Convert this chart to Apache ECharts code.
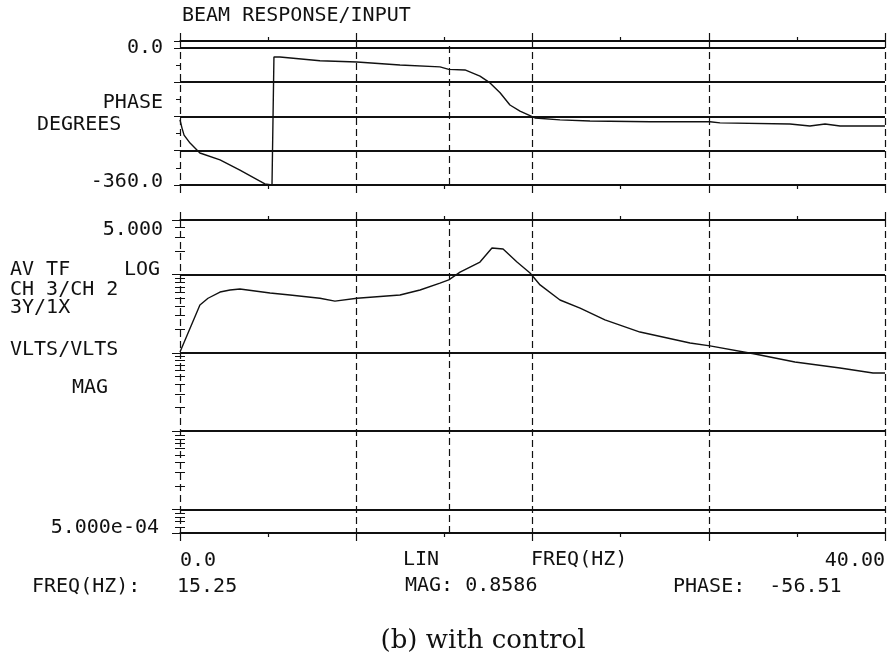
<!DOCTYPE html>
<html>
<head>
<meta charset="utf-8">
<script src="https://cdn.jsdelivr.net/npm/echarts@6/dist/echarts.min.js"></script>
<style>
  html, body { margin: 0; padding: 0; background: #fff; }
  #beamChart { width: 890px; height: 659px; }
</style>
</head>
<body>
<div id="beamChart"></div>
<script>
// phase trace (Hz, degrees)
const phaseFreq = [0, 0.11, 0.23, 0.57, 1.13, 2.27, 3.40, 4.43, 4.82, 5.22, 5.33, 5.67, 7.94, 10.04, 12.48, 14.75, 15.25,
  16.17, 17.02, 17.59, 18.16, 18.72, 19.29, 20.14, 21.56, 23.26, 26.67, 30.07, 30.64, 34.61, 35.74, 36.6, 37.45, 40];
const phaseDeg = [-189, -210, -229, -250, -276, -294, -321, -347, -357, -360, -24, -24, -34, -37, -45, -50, -56.5,
  -58, -74, -92, -118, -150, -166, -184, -189, -192, -194, -194, -197, -200, -205, -200, -205, -205];

// magnitude trace (Hz, volts/volts)
const magFreq = [0, 1.13, 1.59, 2.27, 2.84, 3.40, 5.11, 6.24, 7.94, 8.79, 10.04, 12.48, 13.62, 14.75, 15.25, 15.89,
  17.02, 17.70, 18.33, 19.12, 19.86, 20.43, 21.56, 22.70, 24.11, 26.10, 28.94, 30.07, 32.62, 34.89, 37.45, 39.32, 40];
const magVal = [0.103, 0.41, 0.50, 0.60, 0.637, 0.656, 0.583, 0.55, 0.50, 0.46, 0.50, 0.55, 0.637, 0.78, 0.86, 1.08,
  1.45, 2.19, 2.13, 1.45, 1.05, 0.74, 0.475, 0.375, 0.264, 0.185, 0.134, 0.123, 0.097, 0.0766, 0.0642, 0.0554, 0.0554];

const cursorFreq = 15.25;

// tick labels
const freqLabels = ['0.0', '40.00'];
const phaseLabels = ['-360.0', '0.0'];
const magLabels = ['5.000e-04', '5.000'];

const MONO = '"DejaVu Sans Mono", monospace';
const INK = '#111';

let chart = echarts.init(document.getElementById('beamChart'), null, {renderer: 'canvas'});

const xCommon = (grid, pos) => ({
  type: 'value',
  gridIndex: grid,
  position: pos,
  min: 0,
  max: 40,
  interval: 10,
  axisLine: {show: true, onZero: false, lineStyle: {color: INK, width: 1.5}},
  axisTick: {show: true, length: 8, lineStyle: {color: INK, width: 1.2}},
  minorTick: {show: true, splitNumber: 2, length: 4, lineStyle: {color: INK, width: 1.2}},
  axisLabel: {show: false},
  splitLine: {show: false}
});

const txt = (text, x, y, align) => ({
  type: 'text',
  x: x,
  y: y,
  silent: true,
  style: {text: text, font: '20px ' + MONO, fill: INK, align: align || 'left', verticalAlign: 'middle'}
});

let option = {
  backgroundColor: '#fff',
  animation: false,
  grid: [
    {left: 180, right: 5, top: 41, height: 144, outerBoundsMode: 'none', containLabel: false},
    {left: 180, right: 5, top: 220, height: 313, outerBoundsMode: 'none', containLabel: false}
  ],
  xAxis: [
    Object.assign(xCommon(0, 'bottom'), {
      splitLine: {show: true, lineStyle: {type: [7, 4], color: INK, width: 1.2}}
    }),
    xCommon(0, 'top'),
    Object.assign(xCommon(1, 'bottom'), {
      splitLine: {show: true, lineStyle: {type: [7, 4], color: INK, width: 1.2}},
      axisLabel: {
        show: true,
        margin: 18,
        fontFamily: MONO,
        fontSize: 20,
        color: INK,
        alignMinLabel: 'left',
        alignMaxLabel: 'right',
        formatter: (v) => v === 0 ? freqLabels[0] : (v === 40 ? freqLabels[1] : '')
      }
    }),
    xCommon(1, 'top')
  ],
  yAxis: [
    {
      type: 'value',
      gridIndex: 0,
      position: 'left',
      min: -360,
      max: 18,
      interval: 90,
      axisLine: {show: false},
      axisTick: {show: true, length: 6, lineStyle: {color: INK}},
      minorTick: {show: true, splitNumber: 2, length: 4, lineStyle: {color: INK}},
      splitLine: {show: true, lineStyle: {color: INK, width: 1.8}},
      axisLabel: {
        margin: 17,
        fontFamily: MONO,
        fontSize: 20,
        color: INK,
        formatter: (v) => v === 0 ? '{a|' + phaseLabels[1] + '}' : (v === -360 ? '{b|' + phaseLabels[0] + '}' : ''),
        rich: {
          a: {fontFamily: MONO, fontSize: 20, color: INK},
          b: {fontFamily: MONO, fontSize: 20, color: INK, padding: [0, 0, 6, 0]}
        }
      }
    },
    {
      type: 'value',
      gridIndex: 0,
      position: 'right',
      min: -360,
      max: 18,
      interval: 90,
      axisLine: {show: false},
      axisTick: {show: true, inside: true, length: 6, lineStyle: {color: INK}},
      minorTick: {show: true, splitNumber: 2, length: 4, lineStyle: {color: INK}},
      splitLine: {show: false},
      axisLabel: {show: false}
    },
    {
      type: 'log',
      logBase: 10,
      gridIndex: 1,
      position: 'left',
      min: 0.0005,
      max: 5,
      axisLine: {show: false},
      axisTick: {show: true, inside: true, length: 8, lineStyle: {color: INK}},
      minorTick: {show: true, splitNumber: 9, length: 5, lineStyle: {color: INK}},
      splitLine: {show: true, lineStyle: {color: INK, width: 1.8}},
      axisLabel: {
        margin: 17,
        fontFamily: MONO,
        fontSize: 20,
        color: INK,
        formatter: (v) => {
          if (Math.abs(v - 5) < 0.01) return '{a|' + magLabels[1] + '}';
          if (v < 0.0009) return '{b|' + magLabels[0] + '}';
          return '';
        },
        rich: {
          a: {fontFamily: MONO, fontSize: 20, color: INK, padding: [20, 0, 0, 0]},
          b: {fontFamily: MONO, fontSize: 20, color: INK, padding: [0, 4, 10, 0]}
        }
      }
    },
    {
      type: 'log',
      logBase: 10,
      gridIndex: 1,
      position: 'right',
      min: 0.0005,
      max: 5,
      axisLine: {show: false},
      axisTick: {show: true, inside: true, length: 8, lineStyle: {color: INK}},
      minorTick: {show: true, splitNumber: 9, length: 5, lineStyle: {color: INK}},
      splitLine: {show: false},
      axisLabel: {show: false}
    }
  ],
  series: [
    {
      name: 'phase',
      type: 'line',
      xAxisIndex: 0,
      yAxisIndex: 0,
      symbol: 'none',
      lineStyle: {color: INK, width: 1.4},
      data: phaseFreq.map((f, i) => [f, phaseDeg[i]]),
      markLine: {
        silent: true,
        symbol: ['none', 'none'],
        label: {show: false},
        lineStyle: {type: [7, 4], color: INK, width: 1.2},
        data: [{xAxis: cursorFreq}]
      }
    },
    {
      name: 'mag',
      type: 'line',
      xAxisIndex: 2,
      yAxisIndex: 2,
      symbol: 'none',
      lineStyle: {color: INK, width: 1.4},
      data: magFreq.map((f, i) => [f, magVal[i]]),
      markLine: {
        silent: true,
        symbol: ['none', 'none'],
        label: {show: false},
        lineStyle: {type: [7, 4], color: INK, width: 1.2},
        data: [{xAxis: cursorFreq}]
      }
    }
  ],
  graphic: [
    txt('BEAM RESPONSE/INPUT', 182, 16),
    txt('PHASE', 163, 103, 'right'),
    txt('DEGREES', 37, 125),
    txt('AV TF', 10, 270),
    txt('LOG', 160, 270, 'right'),
    txt('CH 3/CH 2', 10, 290),
    txt('3Y/1X', 10, 308),
    txt('VLTS/VLTS', 10, 350),
    txt('MAG', 72, 388),
    txt('LIN', 403, 560),
    txt('FREQ(HZ)', 531, 560),
    txt('FREQ(HZ):', 32, 587),
    txt('15.25', 177, 587),
    txt('MAG: 0.8586', 405, 586),
    txt('PHASE:  -56.51', 673, 587),
    {
      type: 'text',
      x: 483,
      y: 641,
      silent: true,
      style: {text: '(b) with control', font: '26px "DejaVu Serif", serif', fill: INK, align: 'center', verticalAlign: 'middle'}
    }
  ]
};

chart.setOption(option);
</script>
</body>
</html>
